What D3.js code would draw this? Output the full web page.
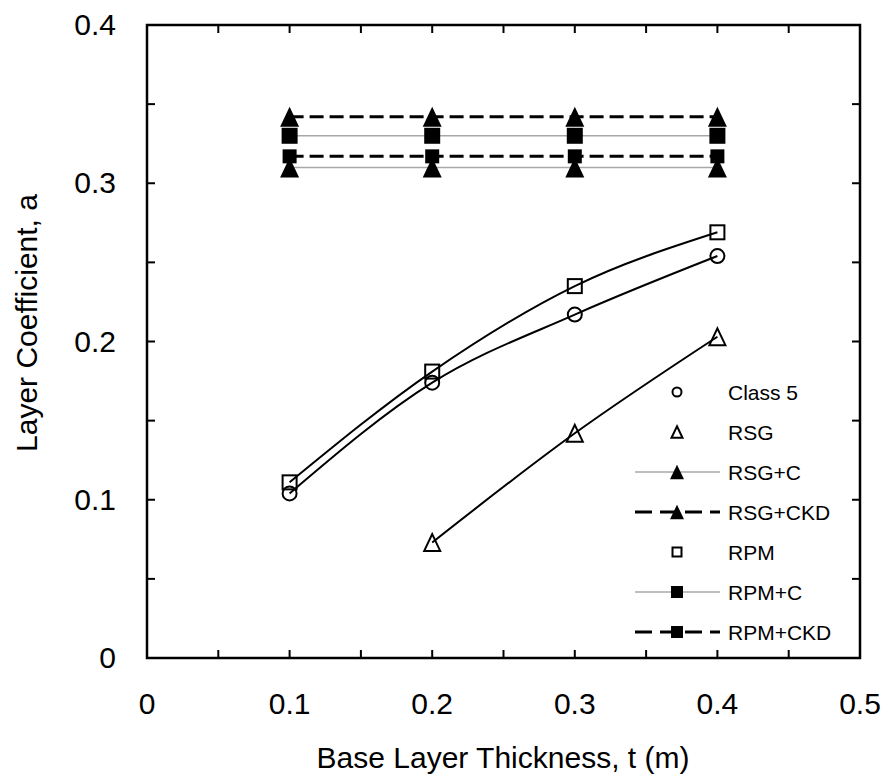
<!DOCTYPE html>
<html>
<head>
<meta charset="utf-8">
<script src="https://cdn.jsdelivr.net/npm/d3@7"></script>
<style>
  body { margin: 0; background: #fff; }
  svg text { font-family: "Liberation Sans", Arial, sans-serif; fill: #000; }
</style>
</head>
<body>
<svg id="chart" width="890" height="784"></svg>
<script>
// data
var thickness = [0.1, 0.2, 0.3, 0.4];
var class5 = [0.104, 0.174, 0.217, 0.254];
var rpm = [0.111, 0.181, 0.235, 0.269];
var rsgT = [0.2, 0.3, 0.4];
var rsg = [0.073, 0.142, 0.203];
var rsgC = [0.31, 0.31, 0.31, 0.31];
var rsgCKD = [0.342, 0.342, 0.342, 0.342];
var rpmC = [0.33, 0.33, 0.33, 0.33];
var rpmCKD = [0.317, 0.317, 0.317, 0.317];
var xTicks = [0, 0.1, 0.2, 0.3, 0.4, 0.5];
var yTicks = [0, 0.1, 0.2, 0.3, 0.4];
var legendNames = ["Class 5", "RSG", "RSG+C", "RSG+CKD", "RPM", "RPM+C", "RPM+CKD"];

var svg = d3.select("#chart");
var pLeft = 147, pRight = 860, pTop = 25, pBottom = 658;

var x = d3.scaleLinear().domain([0, 0.5]).range([pLeft, pRight]);
var y = d3.scaleLinear().domain([0, 0.4]).range([pBottom, pTop]);

var minorX = d3.range(0, 0.5001, 0.05);
var minorY = d3.range(0, 0.4001, 0.05);

// frame
svg.append("rect")
  .attr("x", pLeft).attr("y", pTop)
  .attr("width", pRight - pLeft).attr("height", pBottom - pTop)
  .attr("fill", "none").attr("stroke", "#000").attr("stroke-width", 2.5);

// inward ticks on all four sides
var tickLen = 8;
var tk = svg.append("g").attr("stroke", "#000").attr("stroke-width", 2);
minorX.forEach(function(v) {
  tk.append("line").attr("x1", x(v)).attr("x2", x(v)).attr("y1", pBottom).attr("y2", pBottom - tickLen);
  tk.append("line").attr("x1", x(v)).attr("x2", x(v)).attr("y1", pTop).attr("y2", pTop + tickLen);
});
minorY.forEach(function(v) {
  tk.append("line").attr("y1", y(v)).attr("y2", y(v)).attr("x1", pLeft).attr("x2", pLeft + tickLen);
  tk.append("line").attr("y1", y(v)).attr("y2", y(v)).attr("x1", pRight).attr("x2", pRight - tickLen);
});

// tick labels
svg.selectAll("text.xl").data(xTicks).enter().append("text")
  .attr("class", "xl")
  .attr("x", function(d) { return x(d); })
  .attr("y", 714)
  .attr("text-anchor", "middle")
  .style("font-size", "30px")
  .text(function(d) { return d === 0 ? "0" : d3.format(".1f")(d); });

svg.selectAll("text.yl").data(yTicks).enter().append("text")
  .attr("class", "yl")
  .attr("x", 116)
  .attr("y", function(d) { return y(d) + 10; })
  .attr("text-anchor", "end")
  .style("font-size", "30px")
  .text(function(d) { return d === 0 ? "0" : d3.format(".1f")(d); });

// axis titles
svg.append("text")
  .attr("x", 503).attr("y", 768)
  .attr("text-anchor", "middle")
  .style("font-size", "30px")
  .text("Base Layer Thickness, t (m)");

svg.append("text")
  .attr("transform", "translate(37,323) rotate(-90)")
  .attr("text-anchor", "middle")
  .style("font-size", "30px")
  .text("Layer Coefficient, a");

// lines
var curve = d3.line()
  .x(function(d) { return x(d[0]); })
  .y(function(d) { return y(d[1]); })
  .curve(d3.curveMonotoneX);
var flat = d3.line()
  .x(function(d) { return x(d[0]); })
  .y(function(d) { return y(d[1]); });

function pairs(xs, ys) { return xs.map(function(v, i) { return [v, ys[i]]; }); }

svg.append("path").attr("d", curve(pairs(thickness, class5)))
  .attr("fill", "none").attr("stroke", "#000").attr("stroke-width", 2);
svg.append("path").attr("d", curve(pairs(thickness, rpm)))
  .attr("fill", "none").attr("stroke", "#000").attr("stroke-width", 2);
svg.append("path").attr("d", curve(pairs(rsgT, rsg)))
  .attr("fill", "none").attr("stroke", "#000").attr("stroke-width", 2);

var grayStyle = { stroke: "#a8a8a8", width: 1.5, dash: null };
var dashStyle = { stroke: "#000", width: 3, dash: "14,6" };

[[rsgC, grayStyle], [rpmC, grayStyle], [rsgCKD, dashStyle], [rpmCKD, dashStyle]].forEach(function(s) {
  svg.append("path").attr("d", flat(pairs(thickness, s[0])))
    .attr("fill", "none")
    .attr("stroke", s[1].stroke)
    .attr("stroke-width", s[1].width)
    .attr("stroke-dasharray", s[1].dash);
});

// markers
function marker(g, type, cx, cy, size) {
  if (type === "ocircle") {
    g.append("circle").attr("cx", cx).attr("cy", cy).attr("r", size / 2)
      .attr("fill", "none").attr("stroke", "#000").attr("stroke-width", 2);
  } else if (type === "osquare" || type === "square") {
    g.append("rect").attr("x", cx - size / 2).attr("y", cy - size / 2)
      .attr("width", size).attr("height", size)
      .attr("fill", type === "square" ? "#000" : "none")
      .attr("stroke", type === "square" ? "none" : "#000").attr("stroke-width", 2);
  } else {
    var h = size * 1.05;
    var pts = [[cx, cy - h / 2], [cx + size / 2, cy + h / 2], [cx - size / 2, cy + h / 2]];
    g.append("path").attr("d", "M" + pts.join("L") + "Z")
      .attr("fill", type === "triangle" ? "#000" : "none")
      .attr("stroke", type === "triangle" ? "none" : "#000").attr("stroke-width", 2);
  }
}

var mk = svg.append("g");
thickness.forEach(function(t, i) { marker(mk, "ocircle", x(t), y(class5[i]), 14); });
thickness.forEach(function(t, i) { marker(mk, "osquare", x(t), y(rpm[i]), 14); });
rsgT.forEach(function(t, i) { marker(mk, "otriangle", x(t), y(rsg[i]), 16); });
thickness.forEach(function(t, i) { marker(mk, "triangle", x(t), y(rsgC[i]), 19); });
thickness.forEach(function(t, i) { marker(mk, "triangle", x(t), y(rsgCKD[i]), 19); });
thickness.forEach(function(t, i) { marker(mk, "square", x(t), y(rpmC[i]), 16); });
thickness.forEach(function(t, i) { marker(mk, "square", x(t), y(rpmCKD[i]), 14); });

// legend
var legMarkers = ["ocircle", "otriangle", "triangle", "triangle", "osquare", "square", "square"];
var legSizes = [9, 11, 14, 14, 9, 12, 12];
var legLines = [null, null, grayStyle, dashStyle, null, grayStyle, dashStyle];
var lg = svg.append("g");
legendNames.forEach(function(name, i) {
  var ly = 392 + i * 40;
  var ls = legLines[i];
  if (ls) {
    lg.append("line").attr("x1", 635).attr("x2", 720).attr("y1", ly).attr("y2", ly)
      .attr("stroke", ls.stroke).attr("stroke-width", ls.width)
      .attr("stroke-dasharray", ls.dash ? "17,8" : null);
  }
  marker(lg, legMarkers[i], 677, ly, legSizes[i]);
  lg.append("text").attr("x", 728).attr("y", ly + 7.5)
    .style("font-size", "21px")
    .text(name);
});
</script>
</body>
</html>
